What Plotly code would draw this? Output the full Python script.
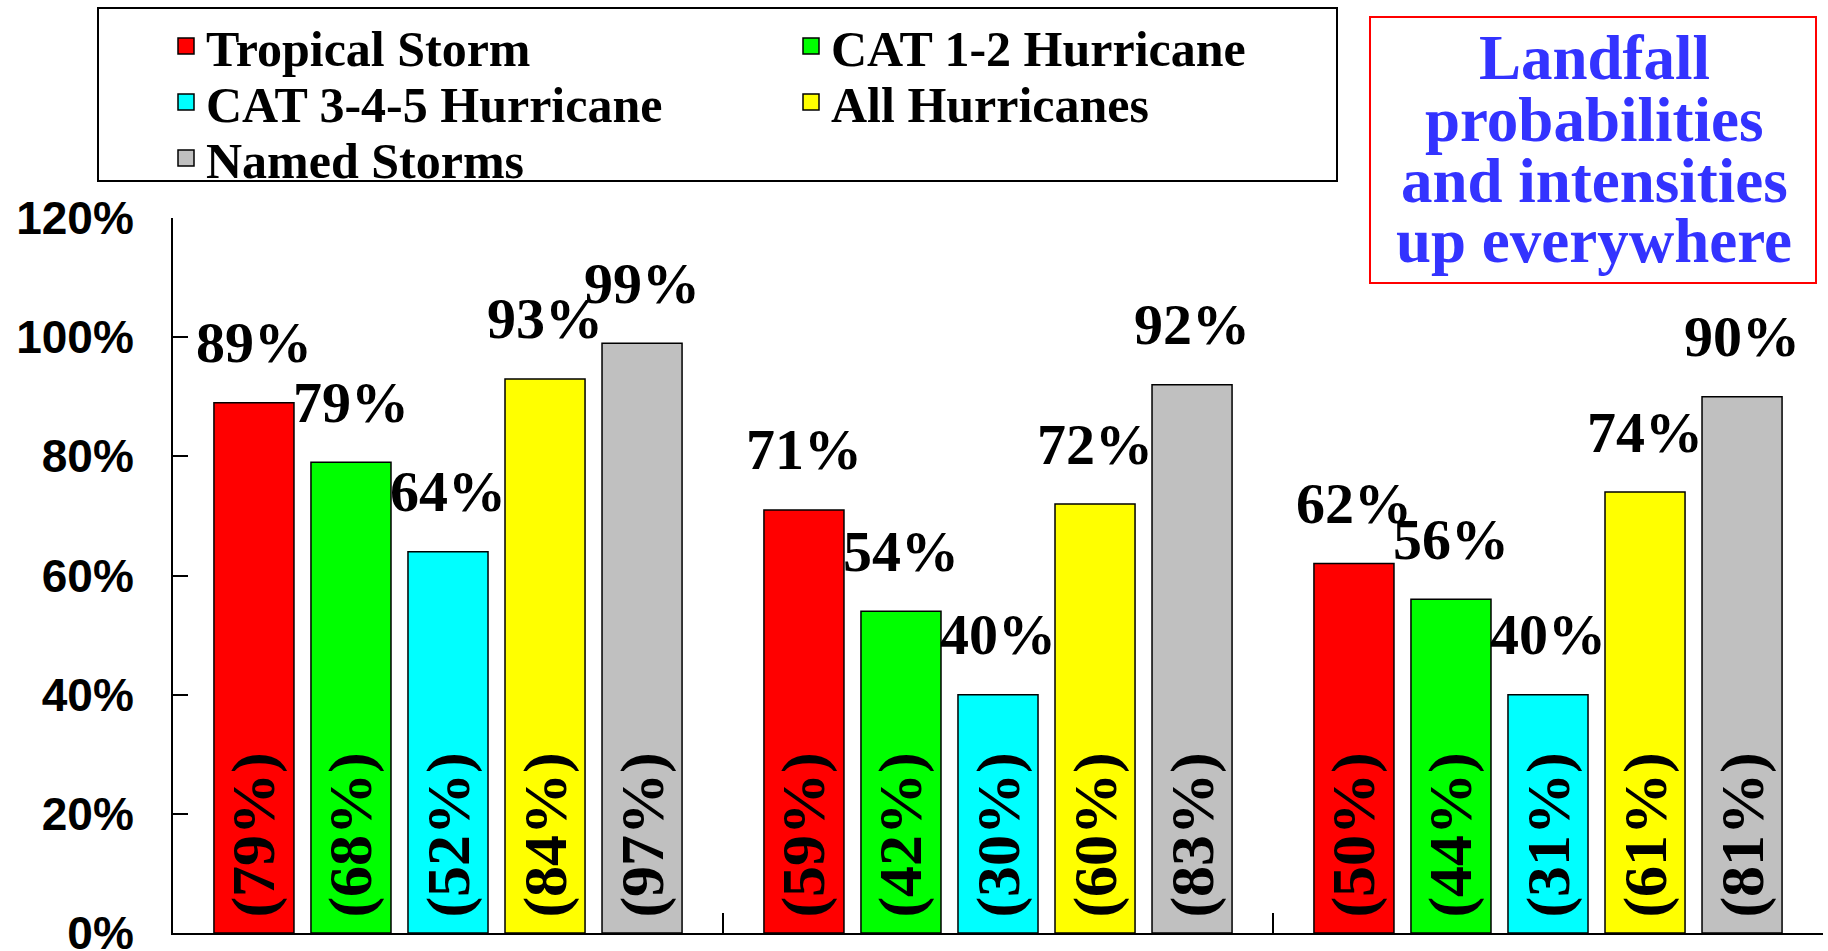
import plotly.graph_objects as go

regions = ["Region A", "Region B", "Region C"]
series_names = ["Tropical Storm", "CAT 1-2 Hurricane", "CAT 3-4-5 Hurricane", "All Hurricanes", "Named Storms"]
series_colors = ["#FF0000", "#00FF00", "#00FFFF", "#FFFF00", "#C0C0C0"]
legend_rows = ["legend", "legend", "legend2", "legend2", "legend3"]

# forecast probabilities (%), per series, per region
tropical_storm = [89, 71, 62]
cat12_hurricane = [79, 54, 56]
cat345_hurricane = [64, 40, 40]
all_hurricanes = [93, 72, 74]
named_storms = [99, 92, 90]

# climatological values shown in parentheses (%)
tropical_storm_clim = [79, 59, 50]
cat12_hurricane_clim = [68, 42, 44]
cat345_hurricane_clim = [52, 30, 31]
all_hurricanes_clim = [84, 60, 61]
named_storms_clim = [97, 83, 81]

y_ticks = [0, 20, 40, 60, 80, 100, 120]
note_lines = ["Landfall", "probabilities", "and intensities", "up everywhere"]

values = [tropical_storm, cat12_hurricane, cat345_hurricane, all_hurricanes, named_storms]
clims = [tropical_storm_clim, cat12_hurricane_clim, cat345_hurricane_clim, all_hurricanes_clim, named_storms_clim]

SERIF = "Liberation Serif"
SANS = "Liberation Sans"

fig = go.Figure()
for i, (name, col, vals, cl) in enumerate(zip(series_names, series_colors, values, clims)):
    fig.add_trace(go.Bar(
        x=regions, y=vals, name=name, offsetgroup=str(i), showlegend=False,
        marker=dict(color=col, line=dict(color="black", width=1.5)),
        text=[f"\u2009({c}%)" for c in cl], textposition="inside", insidetextanchor="start",
        textangle=-90, insidetextfont=dict(family=SERIF, size=62, color="black", weight="bold"),
        hoverinfo="skip",
    ))
for i, vals in enumerate(values):
    fig.add_trace(go.Scatter(
        x=regions, y=vals, mode="markers+text", offsetgroup=str(i),
        marker=dict(size=40, opacity=0), text=[f"{v}%" for v in vals],
        textposition="top center",
        textfont=dict(family=SERIF, size=58, color="black", weight="bold"),
        showlegend=False, hoverinfo="skip", cliponaxis=False,
    ))
# legend entries (square swatches)
for i, (name, col, lg) in enumerate(zip(series_names, series_colors, legend_rows)):
    fig.add_trace(go.Scatter(
        x=[None], y=[None], mode="markers", name=name, legend=lg, offsetgroup=str(i),
        marker=dict(symbol="square", size=30, color=col, line=dict(color="black", width=1.5)),
        hoverinfo="skip",
    ))

W, H = 1828, 951
L, R, T, B = 173, 5, 218, 18
pw, ph = W - L - R, H - T - B


def px(xp):
    return (xp - L) / pw


def py(yp):
    return (H - B - yp) / ph


shapes = [
    dict(type="rect", xref="paper", yref="paper", x0=px(98), x1=px(1337), y0=py(181), y1=py(8),
         line=dict(color="black", width=2), fillcolor="rgba(0,0,0,0)", layer="below"),
    dict(type="rect", xref="paper", yref="paper", x0=px(1370), x1=px(1816), y0=py(283), y1=py(17),
         line=dict(color="#FF0000", width=2), fillcolor="white"),
]
line_y = [58, 120, 181, 241]
annotations = [
    dict(text=t, xref="paper", yref="paper", x=px(1594), y=py(yy), xanchor="center", yanchor="middle",
         showarrow=False, font=dict(family=SERIF, size=63, color="#3333FF", weight="bold"))
    for t, yy in zip(note_lines, line_y)
]

legend_common = dict(orientation="h", xanchor="left", yanchor="middle",
                     font=dict(family=SERIF, size=50, color="black", weight="bold"),
                     bgcolor="rgba(0,0,0,0)", borderwidth=0, entrywidth=580, traceorder="normal",
                     itemsizing="trace")

fig.update_layout(
    width=W, height=H, margin=dict(l=L, r=R, t=T, b=B, autoexpand=False),
    paper_bgcolor="white", plot_bgcolor="white",
    barmode="group", bargap=0.118, bargroupgap=0.175,
    scattermode="group", scattergap=0.118,
    showlegend=True,
    legend=dict(x=px(166), y=py(46), **legend_common),
    legend2=dict(x=px(166), y=py(102), **legend_common),
    legend3=dict(x=px(166), y=py(158), **legend_common),
    xaxis=dict(type="category", range=[-0.5, 2.5], showline=True, linecolor="black", linewidth=2,
               ticks="inside", tickson="boundaries", ticklen=20, tickwidth=1.5, tickcolor="black",
               showticklabels=False, showgrid=False, automargin=False),
    yaxis=dict(range=[0, 120], tickvals=y_ticks, ticktext=[f"{v}%" for v in y_ticks],
               showline=True, linecolor="black", linewidth=2, ticks="inside", ticklen=15,
               tickwidth=1.5, tickcolor="black", showgrid=False, zeroline=False,
               tickfont=dict(family=SANS, size=46, color="black", weight="bold"),
               ticklabelstandoff=28, ticklabeloverflow="allow", automargin=False),
    shapes=shapes, annotations=annotations,
)

fig.write_html("out.html")
